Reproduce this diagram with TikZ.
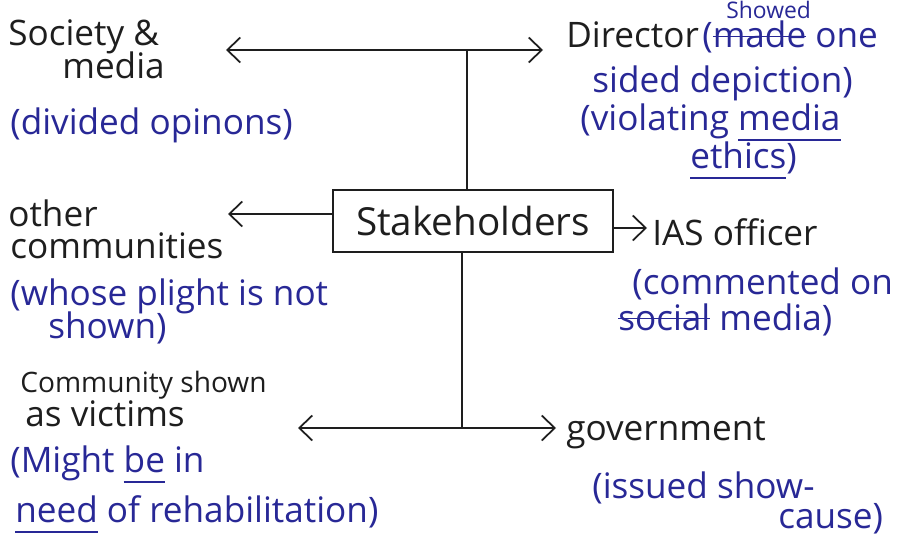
\documentclass[tikz,border=0pt]{standalone}
\usepackage{fontspec}
\setmainfont{Open Sans}
\usetikzlibrary{arrows.meta}

\definecolor{inkblack}{RGB}{30,30,30}
\definecolor{inkblue}{RGB}{40,40,150}

% struck-out and underlined words
\newcommand\strk[1]{\setbox0\hbox{#1}\rlap{\raisebox{0.3em}{\rule{\wd0}{1pt}}}\box0\relax}
\newcommand\undl[1]{\setbox0\hbox{#1}\rlap{\raisebox{-0.3em}{\rule{\wd0}{0.8pt}}}\box0\relax}

\tikzset{
  lbl/.style={font=\fontsize{20}{22}\selectfont, text=inkblack, anchor=base west, inner sep=0pt},
  note/.style={lbl, text=inkblue},
  small/.style={font=\fontsize{16}{18}\selectfont},
  tiny/.style={font=\fontsize{13}{15}\selectfont},
  arr/.style={draw=inkblack, line width=1pt, -{Straight Barb[length=2.6mm,width=5mm]}},
  link/.style={draw=inkblack, line width=1pt}
}

\begin{document}
\begin{tikzpicture}[x=0.02cm, y=-0.02cm]

  % Fix the page to the size of the sheet
  \useasboundingbox (0,0) rectangle (900,551);

  % The central box
  \node[draw=inkblack, line width=1pt, minimum width=5.6cm, minimum height=1.24cm,
        font=\fontsize{22}{24}\selectfont, text=inkblack] (stake) at (473,221) {Stakeholders};

  % Junctions above and below the box
  \coordinate (hubtop) at (467,50);
  \coordinate (hubbot) at (462,428);

  % Arrow tips
  \coordinate (tipsoc) at (226,50);
  \coordinate (tipdir) at (543,50);
  \coordinate (tipoth) at (228,214);
  \coordinate (tipias) at (647,228);
  \coordinate (tipcom) at (298,428);
  \coordinate (tipgov) at (556,428);

  % Top branch
  \draw[link] (stake.north -| hubtop) -- (hubtop);
  \draw[arr] (hubtop) -- (tipsoc);
  \draw[arr] (hubtop) -- (tipdir);

  % Side branches
  \draw[arr] (stake.west |- tipoth) -- (tipoth);
  \draw[arr] (stake.east |- tipias) -- (tipias);

  % Bottom branch
  \draw[link] (stake.south -| hubbot) -- (hubbot);
  \draw[arr] (hubbot) -- (tipcom);
  \draw[arr] (hubbot) -- (tipgov);

  % Society and media
  \node[lbl] (soc) at (8,46) {Society \&};
  \node[lbl] (socb) at (62,78) {media};
  \node[note] (socn) at (10,134) {(divided opinons)};

  % Director
  \node[lbl] (dir) at (566,48) {Director};
  \node[note, tiny] (dirfix) at (726,18) {Showed};
  \node[note] (dirn) at (702,48) {(\strk{made} one};
  \node[note] (dirnb) at (592,92) {sided depiction)};
  \node[note] (dirnc) at (580,130) {(violating \undl{media}};
  \node[note] (dirnd) at (690,168) {\undl{ethics})};

  % Other communities
  \node[lbl] (oth) at (8,226) {other};
  \node[lbl] (othb) at (10,258) {communities};
  \node[note] (othn) at (10,305) {(whose plight is not};
  \node[note] (othnb) at (48,338) {shown)};

  % IAS officer
  \node[lbl] (ias) at (652,245) {IAS officer};
  \node[note] (iasn) at (632,294) {(commented on};
  \node[note] (iasnb) at (618,330) {\strk{social} media)};

  % Community shown as victims
  \node[lbl, small] (com) at (20,392) {Community shown};
  \node[lbl] (comb) at (25,426) {as victims};
  \node[note] (comn) at (10,472) {(Might \undl{be} in};
  \node[note] (comnb) at (15,522) {\undl{need} of rehabilitation)};

  % Government
  \node[lbl] (gov) at (566,440) {government};
  \node[note] (govn) at (592,498) {(issued show-};
  \node[note] (govnb) at (778,528) {cause)};

\end{tikzpicture}
\end{document}
